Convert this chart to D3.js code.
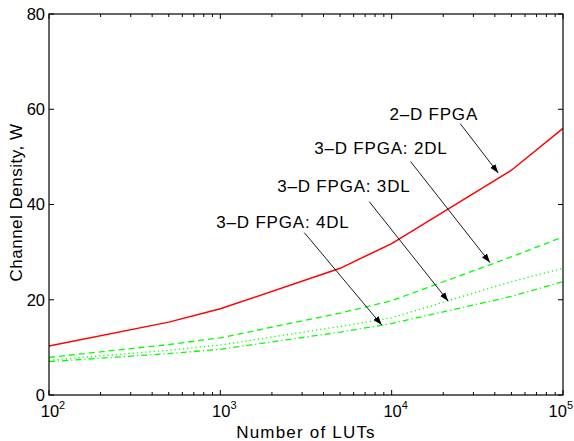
<!DOCTYPE html>
<html>
<head>
<meta charset="utf-8">
<script src="https://cdn.jsdelivr.net/npm/d3@7"></script>
<style>
  body { margin: 0; background: #fff; }
  svg { display: block; font-family: "Liberation Sans", Arial, Helvetica, sans-serif; }
</style>
</head>
<body>
<div id="chart"></div>
<script>
// Channel density vs number of LUTs

const luts = [100, 500, 1000, 5000, 10000, 50000, 100000];
const fpga2d = [10.3, 15.3, 18.1, 26.6, 31.8, 47.2, 56.0];
const fpga3d2dl = [7.9, 10.6, 12.0, 17.2, 19.8, 29.0, 33.2];
const fpga3d3dl = [7.3, 9.4, 10.5, 14.4, 16.2, 23.8, 26.6];
const fpga3d4dl = [7.0, 8.7, 9.6, 13.2, 15.0, 20.7, 23.8];

const yTicks = [0, 20, 40, 60, 80];
const xTicks = [100, 1000, 10000, 100000];

// annotations: label anchor and arrow in data coords
const notes = [
    { label: "2\u2013D FPGA", tx: 17600, ty: 57.7, x1: 25100, y1: 57.0, x2: 41900, y2: 46.6 },
    { label: "3\u2013D FPGA: 2DL", tx: 8650, ty: 50.5, x1: 12900, y1: 49.0, x2: 37500, y2: 27.8 },
    { label: "3\u2013D FPGA: 3DL", tx: 5260, ty: 42.7, x1: 7400, y1: 40.6, x2: 21400, y2: 19.7 },
    { label: "3\u2013D FPGA: 4DL", tx: 2320, ty: 35.0, x1: 3090, y1: 34.1, x2: 8750, y2: 14.7 }
];

const width = 574, height = 441;
const margin = { top: 14, right: 11, bottom: 46, left: 49 };
const w = width - margin.left - margin.right;
const h = height - margin.top - margin.bottom;

const svg = d3.select("#chart").append("svg")
    .attr("width", width)
    .attr("height", height);

svg.append("defs").append("marker")
    .attr("id", "arrow")
    .attr("markerUnits", "userSpaceOnUse")
    .attr("viewBox", "0 0 10 10")
    .attr("refX", 10)
    .attr("refY", 5)
    .attr("markerWidth", 9)
    .attr("markerHeight", 9)
    .attr("orient", "auto")
    .append("path")
    .attr("d", "M0,1.5 L10,5 L0,8.5 Z")
    .attr("fill", "#000");

const g = svg.append("g").attr("transform", `translate(${margin.left},${margin.top})`);

const x = d3.scaleLog().domain([100, 100000]).range([0, w]);
const y = d3.scaleLinear().domain([0, 80]).range([h, 0]);

// minor ticks for log axis
const minor = x.ticks().filter(v => !xTicks.includes(v));

// ticks (inward) on all four sides
const tickG = g.append("g").attr("stroke", "#000").attr("stroke-width", 1);
xTicks.forEach(v => {
    tickG.append("line").attr("x1", x(v)).attr("x2", x(v)).attr("y1", h).attr("y2", h - 5);
    tickG.append("line").attr("x1", x(v)).attr("x2", x(v)).attr("y1", 0).attr("y2", 5);
});
minor.forEach(v => {
    tickG.append("line").attr("x1", x(v)).attr("x2", x(v)).attr("y1", h).attr("y2", h - 3);
    tickG.append("line").attr("x1", x(v)).attr("x2", x(v)).attr("y1", 0).attr("y2", 3);
});
yTicks.forEach(v => {
    tickG.append("line").attr("x1", 0).attr("x2", 5).attr("y1", y(v)).attr("y2", y(v));
    tickG.append("line").attr("x1", w).attr("x2", w - 5).attr("y1", y(v)).attr("y2", y(v));
});

// y tick labels
g.append("g").selectAll("text")
    .data(yTicks)
    .join("text")
    .attr("x", -4)
    .attr("y", d => y(d))
    .attr("dy", "0.36em")
    .attr("text-anchor", "end")
    .attr("font-size", 16.5)
    .attr("fill", "#000")
    .text(d => d);

// x tick labels 10^n (last one kept inside the window)
const xl = g.append("g").selectAll("text")
    .data(xTicks)
    .join("text")
    .attr("x", (d, i) => i === xTicks.length - 1 ? width - margin.left - 1 : x(d) + 4)
    .attr("y", h + 22)
    .attr("text-anchor", (d, i) => i === xTicks.length - 1 ? "end" : "middle")
    .attr("font-size", 16.5)
    .attr("fill", "#000");
xl.append("tspan").text("10");
xl.append("tspan")
    .attr("font-size", 11)
    .attr("dy", -8)
    .text(d => Math.round(Math.log10(d)));

// lines
const line = vals => d3.line()
    .x((d, i) => x(luts[i]))
    .y(d => y(d))(vals);

const series = [
    { vals: fpga2d, color: "#ff0000", dash: null, width: 1.5 },
    { vals: fpga3d2dl, color: "#00ff00", dash: "6,4", width: 1.3 },
    { vals: fpga3d3dl, color: "#00ff00", dash: "1.2,3", width: 1.3 },
    { vals: fpga3d4dl, color: "#00ff00", dash: "6,3,1.2,3", width: 1.3 }
];

g.append("g").selectAll("path")
    .data(series)
    .join("path")
    .attr("d", d => line(d.vals))
    .attr("fill", "none")
    .attr("stroke", d => d.color)
    .attr("stroke-width", d => d.width)
    .attr("stroke-dasharray", d => d.dash);

// annotations
const ann = g.append("g");
ann.selectAll("line")
    .data(notes)
    .join("line")
    .attr("x1", d => x(d.x1))
    .attr("y1", d => y(d.y1))
    .attr("x2", d => x(d.x2))
    .attr("y2", d => y(d.y2))
    .attr("stroke", "#000")
    .attr("stroke-width", 0.9)
    .attr("marker-end", "url(#arrow)");

ann.selectAll("text")
    .data(notes)
    .join("text")
    .attr("x", d => x(d.tx))
    .attr("y", d => y(d.ty))
    .attr("text-anchor", "middle")
    .attr("font-size", 17)
    .attr("letter-spacing", 0.8)
    .attr("fill", "#000")
    .text(d => d.label);

// frame
g.append("rect")
    .attr("width", w)
    .attr("height", h)
    .attr("fill", "none")
    .attr("stroke", "#000")
    .attr("stroke-width", 1.2);

// axis labels
svg.append("text")
    .attr("x", margin.left + w / 2)
    .attr("y", height - 3)
    .attr("text-anchor", "middle")
    .attr("font-size", 17)
    .attr("letter-spacing", 1.2)
    .attr("fill", "#000")
    .text("Number of LUTs");

svg.append("text")
    .attr("transform", `translate(22,${margin.top + h / 2 - 2}) rotate(-90)`)
    .attr("text-anchor", "middle")
    .attr("font-size", 17)
    .attr("letter-spacing", 0.5)
    .attr("fill", "#000")
    .text("Channel Density, W");
</script>
</body>
</html>
